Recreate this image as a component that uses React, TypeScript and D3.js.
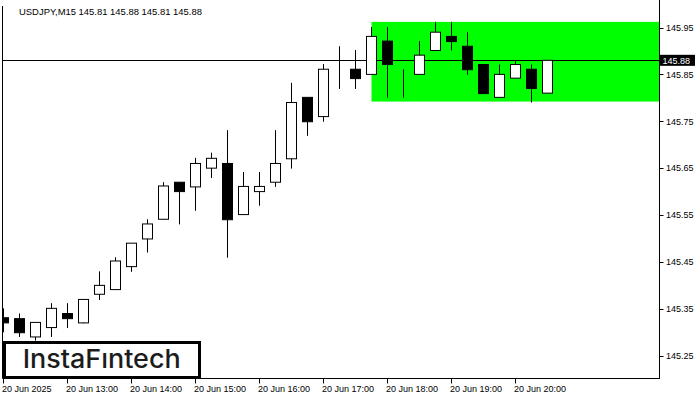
import React from "react";
import * as d3 from "d3";

const symbolTitle = "USDJPY,M15  145.81 145.88 145.81 145.88";
const times = [
  "12:00","12:15","12:30","12:45","13:00","13:15","13:30","13:45",
  "14:00","14:15","14:30","14:45","15:00","15:15","15:30","15:45",
  "16:00","16:15","16:30","16:45","17:00","17:15","17:30","17:45",
  "18:00","18:15","18:30","18:45","19:00","19:15","19:30","19:45",
  "20:00","20:15","20:30",
];
const opens = [
  145.331,145.329,145.290,145.310,145.340,145.320,145.381,145.391,
  145.440,145.499,145.541,145.620,145.610,145.650,145.660,145.551,
  145.600,145.620,145.670,145.801,145.760,145.850,145.861,145.850,
  145.921,145.861,145.850,145.901,145.931,145.910,145.871,145.801,
  145.842,145.861,145.810,
];
const highs = [
  145.351,145.340,145.321,145.362,145.362,145.371,145.430,145.460,
  145.490,145.541,145.620,145.620,145.672,145.683,145.731,145.642,
  145.642,145.731,145.832,145.801,145.872,145.910,145.902,145.951,
  145.951,145.861,145.921,145.962,145.962,145.940,145.871,145.871,
  145.880,145.871,145.880,
];
const lows = [
  145.300,145.290,145.282,145.290,145.309,145.319,145.369,145.390,
  145.429,145.470,145.540,145.530,145.559,145.629,145.459,145.550,
  145.570,145.610,145.649,145.719,145.749,145.819,145.819,145.850,
  145.800,145.800,145.850,145.900,145.901,145.849,145.809,145.800,
  145.842,145.790,145.810,
];
const closes = [
  145.320,145.299,145.321,145.351,145.329,145.370,145.400,145.452,
  145.490,145.531,145.612,145.600,145.660,145.671,145.540,145.611,
  145.611,145.660,145.790,145.749,145.861,145.850,145.841,145.931,
  145.871,145.861,145.891,145.940,145.920,145.860,145.809,145.850,
  145.871,145.820,145.880,
];
const timeTickIndex = [0, 4, 8, 12, 16, 20, 24, 28, 32];
const timeTickLabels = [
  "20 Jun 2025","20 Jun 13:00","20 Jun 14:00","20 Jun 15:00","20 Jun 16:00",
  "20 Jun 17:00","20 Jun 18:00","20 Jun 19:00","20 Jun 20:00",
];
const priceTicks = [145.25, 145.35, 145.45, 145.55, 145.65, 145.75, 145.85, 145.95];
const currentPrice = 145.88;
const zoneTop = 145.962;
const zoneBottom = 145.792;
const zoneStartIndex = 23;

const FONT = "'Liberation Sans', Arial, sans-serif";

export default function App() {
  const plotLeft = 2.5;
  const plotRight = 659.5;
  const plotBottom = 378.5;
  const x = d3.scaleLinear().domain([0, 34]).range([3.5, 547.5]);
  const y = d3.scaleLinear().domain([145.25, 145.95]).range([355.7, 27.5]);
  const fmt = d3.format(".2f");

  return (
    <svg width={700} height={400} style={{ position: "absolute", left: 0, top: 0, background: "#fff" }}>
      <defs>
        <clipPath id="plot">
          <rect x={3} y={0} width={656} height={378} />
        </clipPath>
      </defs>
      <rect x={0} y={0} width={700} height={400} fill="#fff" />
      <g clipPath="url(#plot)">
        <rect
          x={x(zoneStartIndex)}
          y={y(zoneTop)}
          width={plotRight - x(zoneStartIndex)}
          height={y(zoneBottom) - y(zoneTop)}
          fill="#00ff00"
        />
        <line x1={plotLeft} x2={plotRight} y1={Math.round(y(currentPrice)) + 0.5} y2={Math.round(y(currentPrice)) + 0.5} stroke="#000" strokeWidth={1} />
        {times.map((t, i) => {
          const cx = x(i);
          const o = opens[i], c = closes[i];
          const bull = c >= o;
          const top = y(Math.max(o, c));
          const bot = y(Math.min(o, c));
          return (
            <g key={t}>
              <line x1={cx} x2={cx} y1={y(highs[i])} y2={y(lows[i])} stroke="#000" strokeWidth={1} />
              <rect
                x={cx - 5}
                y={top}
                width={10}
                height={Math.max(0, bot - top)}
                fill={bull ? "#fff" : "#000"}
                stroke="#000"
                strokeWidth={1}
              />
            </g>
          );
        })}
      </g>
      {/* frame */}
      <line x1={plotLeft} x2={plotLeft} y1={6} y2={plotBottom} stroke="#000" />
      <line x1={plotRight} x2={plotRight} y1={0} y2={plotBottom + 0.5} stroke="#000" />
      <line x1={plotLeft} x2={plotRight} y1={plotBottom} y2={plotBottom} stroke="#000" />
      {/* title */}
      <text x={19} y={15} fontFamily={FONT} fontSize={9.45} fill="#000">{symbolTitle}</text>
      {/* y axis */}
      {priceTicks.map((p) => (
        <g key={p}>
          <line x1={plotRight} x2={plotRight + 4} y1={Math.round(y(p)) + 0.5} y2={Math.round(y(p)) + 0.5} stroke="#000" />
          <text x={666} y={y(p) + 3.3} fontFamily={FONT} fontSize={9} fill="#000">{fmt(p)}</text>
        </g>
      ))}
      <rect x={660} y={y(currentPrice) - 5.5} width={35} height={11} fill="#000" />
      <text x={662.5} y={y(currentPrice) + 3.3} fontFamily={FONT} fontSize={9} fill="#fff">{fmt(currentPrice)}</text>
      {/* x axis */}
      {timeTickIndex.map((ti, k) => (
        <g key={ti}>
          <line x1={x(ti)} x2={x(ti)} y1={plotBottom} y2={plotBottom + 5} stroke="#000" />
          <text x={x(ti) - 1.5} y={392} fontFamily={FONT} fontSize={9} fill="#000">{timeTickLabels[k]}</text>
        </g>
      ))}
      {/* logo */}
      <rect x={4.5} y={342.5} width={195} height={35} fill="#fff" stroke="#000" strokeWidth={3} />
      <text x={22.7} y={368.3} fontFamily="Inter, 'Open Sans', sans-serif" fontWeight={500} fontSize={26} fill="#1c1c1c" textLength={158} lengthAdjust="spacingAndGlyphs">InstaFıntech</text>
    </svg>
  );
}
